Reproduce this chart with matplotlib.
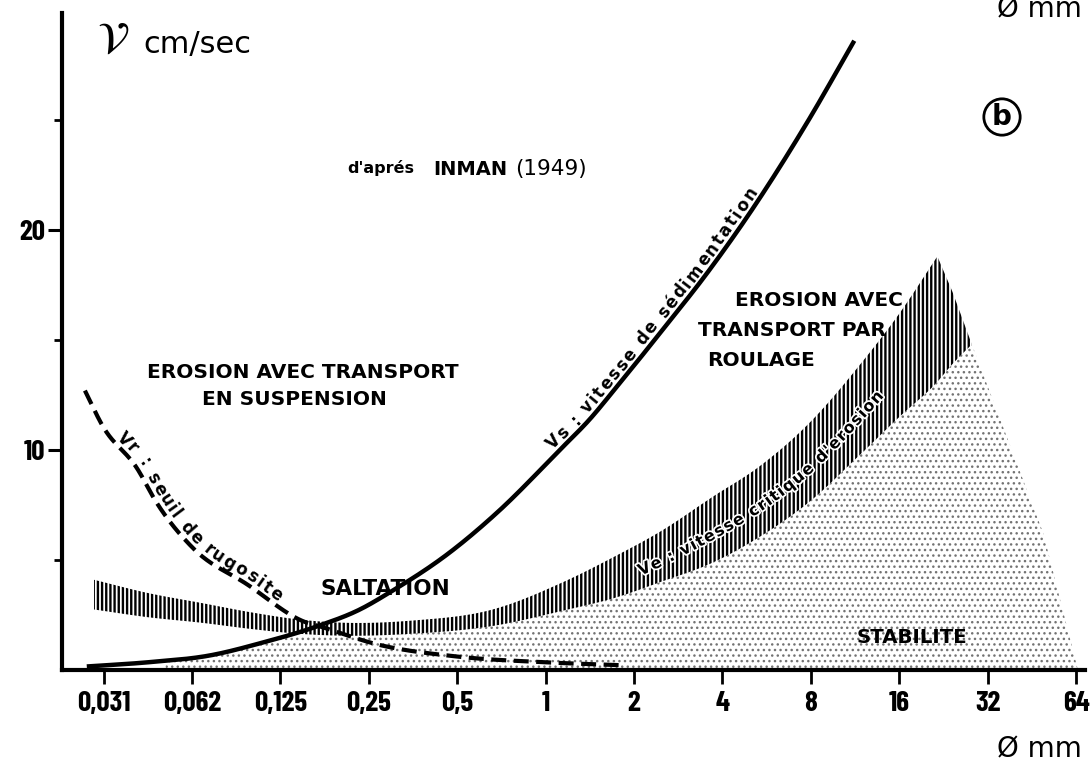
import numpy as np
import matplotlib
matplotlib.use("Agg")
import matplotlib.pyplot as plt
from matplotlib.transforms import IdentityTransform
from matplotlib.textpath import TextToPath
from matplotlib.font_manager import FontProperties
import matplotlib.patheffects as pe

# ---------------- data ----------------
tick_mm = [2.0 ** k for k in range(-5, 7)]
tick_labels = ['0,031', '0,062', '0,125', '0,25', '0,5', '1', '2', '4', '8', '16', '32', '64']

# Vs : vitesse de sedimentation (solid curve)
vs_d = [0.0274, 0.0442, 0.0718, 0.109, 0.168, 0.233, 0.299, 0.467, 0.683,
        1.117, 1.414, 1.729, 2.514, 3.482, 4.857, 7.781, 11.24]
vs_v = [0.16, 0.35, 0.66, 1.25, 2.0, 2.75, 3.58, 5.3, 7.15,
        10.0, 11.4, 12.8, 15.5, 17.9, 20.6, 24.9, 28.6]

# Vr : seuil de rugosite (dashed curve)
vr_d = [0.0270, 0.0310, 0.0407, 0.0474, 0.0629, 0.0961, 0.1539, 0.1684,
        0.2679, 0.4931, 1.0, 1.879]
vr_v = [12.7, 11.1, 9.15, 7.6, 5.55, 3.9, 2.15, 2.0, 1.16, 0.62, 0.35, 0.21]

# Ve : vitesse critique d'erosion (hatched band), peak at index 16
ve_d = [0.0290, 0.0442, 0.0670, 0.1015, 0.1436, 0.2031, 0.3536, 0.6598, 1.149,
        1.741, 2.462, 3.732, 5.278, 8.0, 11.79, 16.0, 21.56, 24.25, 28.25]
ve_top = [4.1, 3.5, 3.05, 2.6, 2.3, 2.15, 2.25, 2.75, 4.0,
          5.2, 6.3, 7.9, 9.2, 11.3, 13.9, 16.2, 18.8, 17.2, 14.8]
ve_bot = [2.75, 2.4, 2.15, 1.85, 1.65, 1.56, 1.65, 2.0, 2.7,
          3.3, 4.0, 4.9, 6.0, 7.7, 9.8, 11.5, 13.1, 13.9, 14.8]

# Stabilite (stippled zone), upper boundary, corner at index 17
st_d = [0.0508, 0.0718, 0.1088, 0.1684, 0.2031, 0.3536, 0.6598, 1.149, 1.741,
        2.462, 3.732, 5.278, 8.0, 11.79, 16.0, 21.56, 24.25, 28.25, 49.5, 64.9]
st_top = [0.45, 0.66, 1.25, 1.6, 1.56, 1.65, 2.0, 2.7, 3.3,
          4.0, 4.9, 6.0, 7.7, 9.8, 11.5, 13.1, 13.9, 14.8, 6.2, 0.0]


# ---------------- smooth drawing helper (cubic Hermite in log2-x) ----------------
def hermite(xq_log, xd, yd):
    x = np.log2(np.asarray(xd, float))
    y = np.asarray(yd, float)
    m = np.gradient(y, x)
    i = np.clip(np.searchsorted(x, xq_log, side='right') - 1, 0, len(x) - 2)
    h = x[i + 1] - x[i]
    t = (xq_log - x[i]) / h
    h00 = 2 * t ** 3 - 3 * t ** 2 + 1
    h10 = t ** 3 - 2 * t ** 2 + t
    h01 = -2 * t ** 3 + 3 * t ** 2
    h11 = t ** 3 - t ** 2
    return h00 * y[i] + h10 * h * m[i] + h01 * y[i + 1] + h11 * h * m[i + 1]


def smooth(xd, yd, corner=None, n=600):
    lx = np.log2(xd)
    q = np.linspace(lx[0], lx[-1], n)
    if corner is None:
        return 2 ** q, hermite(q, xd, yd)
    yq = np.interp(q, lx, yd)
    left = q <= lx[corner]
    yq[left] = hermite(q[left], xd[:corner + 1], yd[:corner + 1])
    return 2 ** q, yq


# ---------------- figure ----------------
W, H = 1092, 774
fig = plt.figure(figsize=(W / 100, H / 100), dpi=100)
ax = fig.add_axes([62 / W, 1 - 670 / H, (1085 - 62) / W, (670 - 13) / H])
ax.set_xscale('log', base=2)
ax.set_xlim(2 ** -5.47, 2 ** 6.10)
ax.set_ylim(0, 29.86)

for s in ('top', 'right'):
    ax.spines[s].set_visible(False)
for s in ('left', 'bottom'):
    ax.spines[s].set_linewidth(3)

ax.set_xticks(tick_mm)
ax.set_xticklabels(tick_labels)
ax.xaxis.set_minor_locator(matplotlib.ticker.NullLocator())
ax.set_yticks([10, 20])
ax.set_yticks([5, 15, 25], minor=True)
ax.tick_params(axis='x', which='major', direction='out', length=10, width=2, pad=5)
ax.tick_params(axis='y', which='major', direction='out', length=10, width=2.2, pad=2)
ax.tick_params(axis='y', which='minor', direction='out', length=6, width=2)
cond = ['Barlow Condensed', 'Fira Sans Condensed', 'Archivo Narrow', 'DejaVu Sans']
for lab in ax.get_xticklabels():
    lab.set_fontfamily(cond)
    lab.set_fontweight('bold')
    lab.set_fontsize(21)
for lab in ax.get_yticklabels():
    lab.set_fontfamily(cond)
    lab.set_fontweight('bold')
    lab.set_fontsize(21)

# stippled zone
sx, sy = smooth(st_d, st_top, corner=17)
with plt.rc_context({'hatch.linewidth': 1.0}):
    ax.fill_between(sx, 0, sy, facecolor='none', edgecolor='0.45',
                    hatch='...', linewidth=0, zorder=1)

# hatched band
bx, btop = smooth(ve_d, ve_top, corner=16)
_, bbot = smooth(ve_d, ve_bot)
with plt.rc_context({'hatch.linewidth': 1.7}):
    ax.fill_between(bx, bbot, btop, facecolor='none', edgecolor='black',
                    hatch='||||', linewidth=0, zorder=2)

vsx, vsy = smooth(vs_d, vs_v)
vrx, vry = smooth(vr_d, vr_v)
ax.plot(vsx, vsy, color='black', lw=3.2, solid_capstyle='butt', zorder=4, clip_on=False)
ax.plot(vrx, vry, color='black', lw=3.0, dashes=(3.6, 1.8), zorder=4, clip_on=False)

# ---------------- curved labels ----------------
ttp = TextToPath()


def curved_text(xd, yd, text, x_start, offset, fs, track=0.0, weight='bold', effects=None):
    lx = np.log2(xd)
    t = np.linspace(lx[0], lx[-1], 3000)
    ty = np.interp(t, lx, yd)
    pts = ax.transData.transform(np.column_stack([2 ** t, ty]))
    seg = np.hypot(np.diff(pts[:, 0]), np.diff(pts[:, 1]))
    s = np.concatenate([[0], np.cumsum(seg)])
    s0 = np.interp(np.log2(x_start), t, s)
    prop = FontProperties(family='DejaVu Sans', weight=weight, size=fs)

    def w(st):
        return ttp.get_text_width_height_descent(st, prop, ismath=False)[0] * fig.dpi / 72

    ref = w('ll')
    pos = s0
    for ch in text:
        adv = w('l' + ch + 'l') - ref + track
        sc = pos + adv / 2
        x0 = np.interp(sc, s, pts[:, 0]); y0 = np.interp(sc, s, pts[:, 1])
        xa = np.interp(sc - 8, s, pts[:, 0]); ya = np.interp(sc - 8, s, pts[:, 1])
        xb = np.interp(sc + 8, s, pts[:, 0]); yb = np.interp(sc + 8, s, pts[:, 1])
        ang = np.arctan2(yb - ya, xb - xa)
        nx, ny = -np.sin(ang), np.cos(ang)
        ax.text(x0 + nx * offset, y0 + ny * offset, ch, transform=IdentityTransform(),
                rotation=np.degrees(ang), rotation_mode='anchor', ha='center',
                va='baseline', fontproperties=prop, zorder=6, path_effects=effects)
        pos += adv


curved_text(vsx, vsy, 'Vs : vitesse de sédimentation', 1.08, 5, 12, track=1.9)
curved_text(vrx, vry, 'Vr : seuil de rugosite', 0.0335, 4, 12, track=1.8)
bmid = (btop + bbot) / 2
curved_text(bx, bmid, "Ve : vitesse critique d'erosion", 2.04, -9, 11.5, track=1.1,
            effects=[pe.withStroke(linewidth=2.5, foreground='white')])


# ---------------- free texts (pixel positions) ----------------
def ftext(x, y, s, **kw):
    fig.text(x / W, 1 - y / H, s, **kw)


bold = dict(fontfamily='DejaVu Sans', fontweight='bold', va='baseline')
ftext(147, 378, 'EROSION AVEC TRANSPORT', fontsize=14.5, ha='left', **bold)
ftext(202, 405, 'EN SUSPENSION', fontsize=14.5, ha='left', **bold)
ftext(735, 306, 'EROSION AVEC', fontsize=14.5, ha='left', **bold)
ftext(698, 336, 'TRANSPORT PAR', fontsize=14.5, ha='left', **bold)
ftext(707, 366, 'ROULAGE', fontsize=14.5, ha='left', **bold)
ftext(320, 595, 'SALTATION', fontsize=15.5, ha='left', **bold)
ftext(857, 643, 'STABILITE', fontsize=14.2, ha='left', **bold)

ftext(347, 173, "d'aprés", fontsize=11.5, ha='left', **bold)
ftext(433, 175, 'INMAN', fontsize=14, ha='left', **bold)
ftext(515, 175, '(1949)', fontsize=15.5, ha='left', fontfamily='DejaVu Sans', va='baseline')

ftext(97, 53, r'$\mathcal{V}$', fontsize=32, ha='left', va='baseline', math_fontfamily='stix')
ftext(143, 53, 'cm/sec', fontsize=22, ha='left', va='baseline', fontfamily='DejaVu Sans')
ftext(1082, 757, 'Ø mm', fontsize=20, ha='right', va='baseline', fontfamily='DejaVu Sans')
ftext(1082, 17, 'Ø mm', fontsize=20, ha='right', va='baseline', fontfamily='DejaVu Sans')
ftext(1002, 117, 'b', fontsize=20, ha='center', va='center', fontfamily='DejaVu Sans',
      fontweight='bold',
      bbox=dict(boxstyle='circle,pad=0.15', fc='white', ec='black', lw=2))

fig.savefig('out.png', dpi=100)
